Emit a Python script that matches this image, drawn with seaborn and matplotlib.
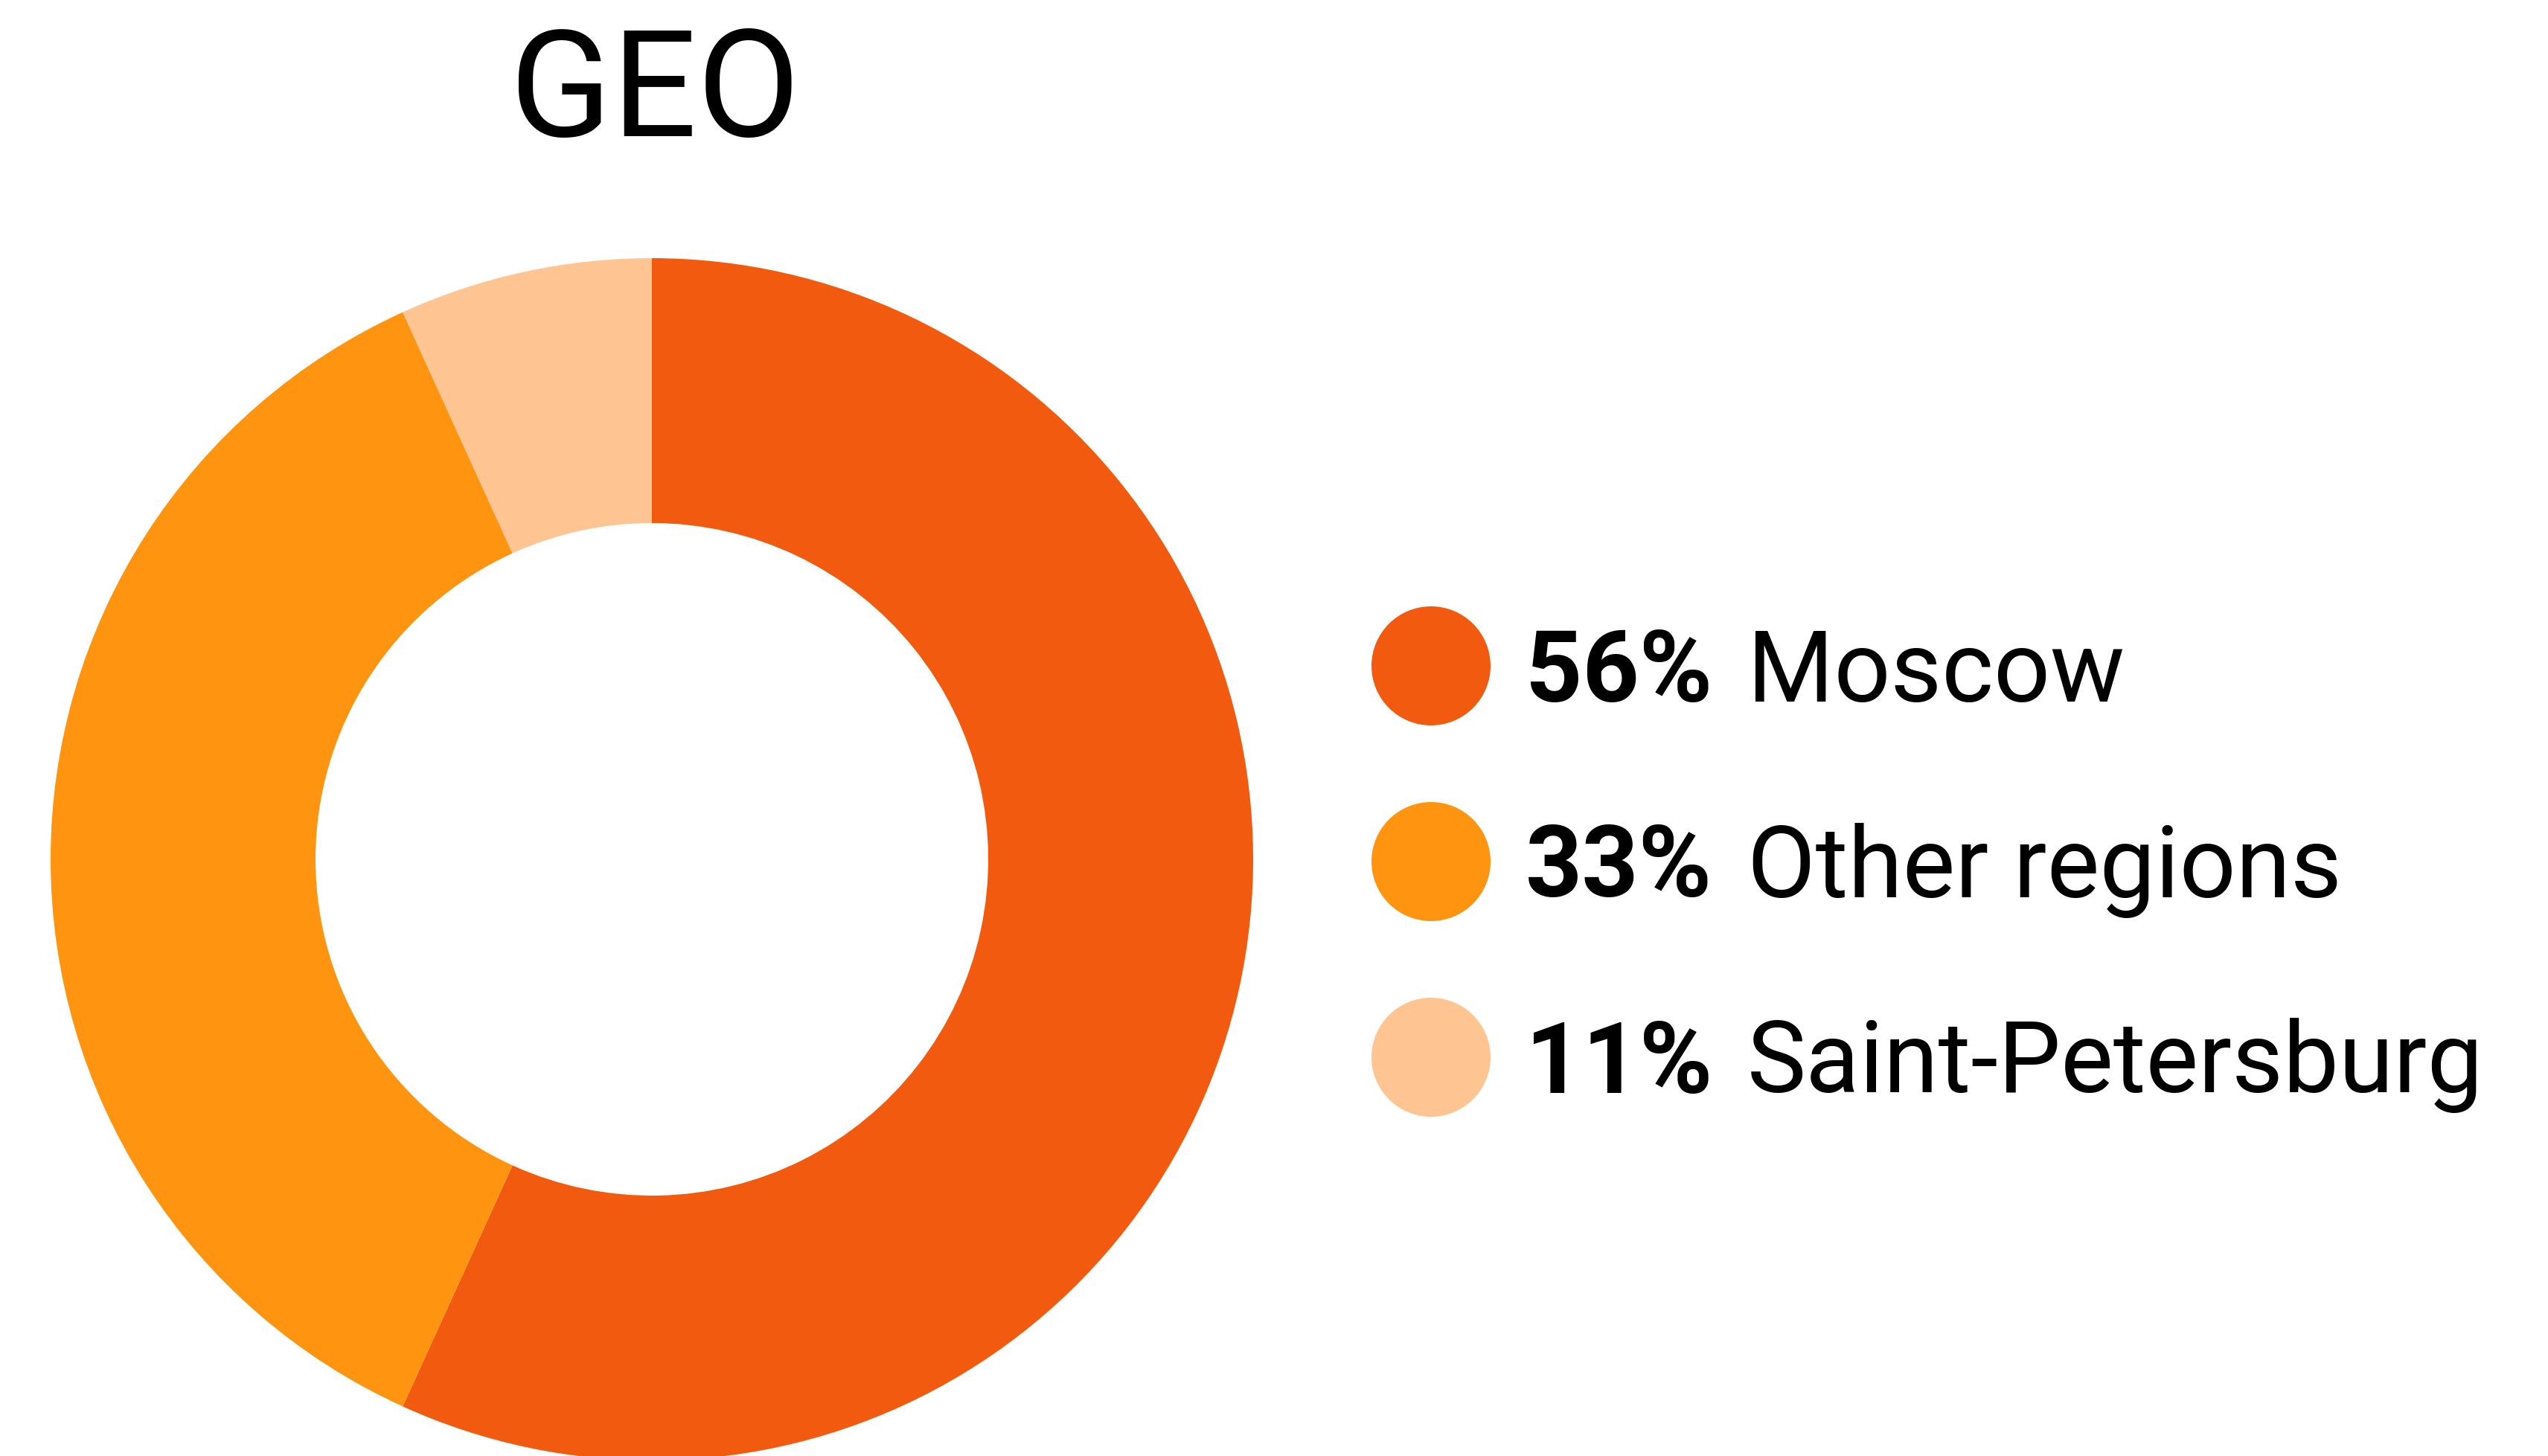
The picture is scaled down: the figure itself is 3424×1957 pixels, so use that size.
import matplotlib
matplotlib.use("Agg")
import matplotlib.pyplot as plt
import seaborn as sns
import pandas as pd

# ---- data ----
regions = ["Moscow", "Other regions", "Saint-Petersburg"]
pct_labels = ["56%", "33%", "11%"]
slice_values = [56.8, 36.4, 6.8]   # slice sizes as drawn in the picture
colors = ["#F25A0F", "#FE9410", "#FEC592"]

W, H = 3424, 1957
sns.set_theme(style="white")
plt.rcParams['font.family'] = ['Roboto', 'DejaVu Sans']

fig = plt.figure(figsize=(W / 100, H / 100), dpi=100)
ax = fig.add_axes([0, 0, 1, 1])

cx, cy = 876, H - 1155
r_out, r_in = 808, 452
ax.pie(slice_values, colors=colors, startangle=90, counterclock=False,
       center=(cx, cy), radius=r_out,
       wedgeprops=dict(width=r_out - r_in, linewidth=0, edgecolor='none'))

# legend dots
leg = pd.DataFrame({"region": regions,
                    "x": [1923] * 3,
                    "y": [H - 895 - 263 * i for i in range(3)]})
sns.scatterplot(data=leg, x="x", y="y", hue="region", palette=colors,
                s=(160 * 0.72) ** 2, linewidth=0, legend=False, ax=ax)

cap = 95
for i, (p, r) in enumerate(zip(pct_labels, regions)):
    yb = leg["y"][i] - cap / 2
    ax.text(2050, yb, p, fontsize=96, fontweight='bold', color='black',
            va='baseline', ha='left')
    ax.text(2348, yb, r, fontsize=96, color='black', va='baseline', ha='left')

ax.text(880, H - 183, "GEO", fontsize=145, color='black', ha='center', va='baseline')

ax.set_xlim(0, W)
ax.set_ylim(0, H)
ax.set_aspect('equal')
ax.axis('off')
fig.savefig("out.png", dpi=100, facecolor='white')
